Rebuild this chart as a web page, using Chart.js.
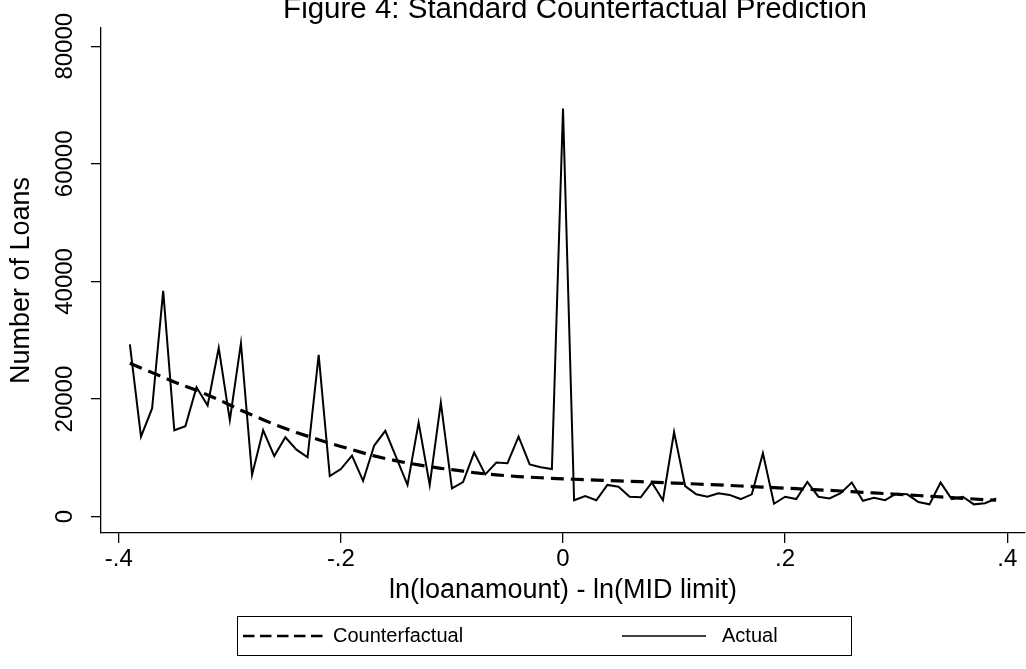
<!DOCTYPE html>
<html>
<head>
<meta charset="utf-8">
<title>Figure 4: Standard Counterfactual Prediction</title>
<script src="https://cdn.jsdelivr.net/npm/chart.js@4.4.0/dist/chart.umd.min.js"></script>
<style>
  html, body { margin: 0; padding: 0; background: #fff; }
  #wrap { width: 1026px; height: 669px; }
</style>
</head>
<body>
<div id="wrap"><canvas id="fig4" width="1026" height="669"></canvas></div>
<script>
// bins of ln(loanamount) - ln(MID limit)
var xVals = [-0.39, -0.38, -0.37, -0.36, -0.35, -0.34, -0.33, -0.32, -0.31, -0.30,
             -0.29, -0.28, -0.27, -0.26, -0.25, -0.24, -0.23, -0.22, -0.21, -0.20,
             -0.19, -0.18, -0.17, -0.16, -0.15, -0.14, -0.13, -0.12, -0.11, -0.10,
             -0.09, -0.08, -0.07, -0.06, -0.05, -0.04, -0.03, -0.02, -0.01, 0,
             0.01, 0.02, 0.03, 0.04, 0.05, 0.06, 0.07, 0.08, 0.09, 0.10,
             0.11, 0.12, 0.13, 0.14, 0.15, 0.16, 0.17, 0.18, 0.19, 0.20,
             0.21, 0.22, 0.23, 0.24, 0.25, 0.26, 0.27, 0.28, 0.29, 0.30,
             0.31, 0.32, 0.33, 0.34, 0.35, 0.36, 0.37, 0.38, 0.39];

var counterfactual = [26100, 25300, 24500, 23700, 22900, 22200, 21500, 20700, 19900, 19000,
                      18100, 17300, 16500, 15700, 15000, 14300, 13700, 13100, 12500, 11950,
                      11400, 10850, 10350, 9900, 9500, 9130, 8800, 8500, 8230, 7990,
                      7760, 7480, 7280, 7100, 6960, 6830, 6720, 6620, 6530, 6440,
                      6370, 6300, 6230, 6160, 6090, 6020, 5950, 5880, 5800, 5720,
                      5640, 5560, 5480, 5400, 5310, 5220, 5130, 5040, 4950, 4860,
                      4770, 4670, 4570, 4470, 4370, 4260, 4150, 4040, 3930, 3820,
                      3710, 3600, 3490, 3370, 3250, 3130, 3010, 2890, 2800];

var actual = [29300, 13600, 18400, 38400, 14700, 15400, 22000, 18900, 28700, 16400,
              29500, 7100, 14700, 10300, 13500, 11400, 10100, 27500, 6900, 8100,
              10400, 6100, 12100, 14600, 10000, 5400, 16000, 5400, 19400, 4800,
              5900, 10900, 7200, 9200, 9100, 13600, 8900, 8400, 8100, 69400,
              2800, 3500, 2800, 5400, 5100, 3400, 3300, 5800, 2800, 14400,
              5200, 3800, 3400, 4000, 3700, 3000, 3800, 10800, 2200, 3400,
              3000, 5900, 3400, 3100, 4000, 5800, 2700, 3200, 2800, 3900,
              3800, 2500, 2100, 5800, 3000, 3400, 2100, 2300, 3100];

var xTicks = [-0.4, -0.2, 0, 0.2, 0.4];
var xTickLabels = ["-.4", "-.2", "0", ".2", ".4"];
var yTicks = [0, 20000, 40000, 60000, 80000];
var yTickLabels = ["0", "20000", "40000", "60000", "80000"];

var FONT = '"Liberation Sans", Arial, Helvetica, sans-serif';

function pairs(ys) {
    return xVals.map(function (x, i) { return {x: x, y: ys[i]}; });
}

// nudge the title a little right, as in the original figure
var titleNudge = {
    id: 'titleNudge',
    afterLayout: function (chart) {
        if (chart.titleBlock) {
            chart.titleBlock.left += 24;
        }
    }
};

// Stata style legend: keys in a framed box under the x axis title
var stataLegend = {
    id: 'stataLegend',
    afterDraw: function (chart) {
        var ctx = chart.ctx;
        var top = chart.scales.x.bottom + 7;
        var midY = top + 20;
        var keys = [{x: 243, w: 80, tx: 333, dash: [11.5, 5.5], lw: 2.6},
                    {x: 622, w: 84, tx: 722, dash: [], lw: 1.6}];
        ctx.save();
        ctx.strokeStyle = '#000';
        ctx.lineWidth = 1;
        ctx.strokeRect(237.5, top + 0.5, 614, 39);
        chart.data.datasets.forEach(function (ds, i) {
            var k = keys[i];
            ctx.setLineDash(k.dash);
            ctx.lineWidth = k.lw;
            ctx.beginPath();
            ctx.moveTo(k.x, midY);
            ctx.lineTo(k.x + k.w, midY);
            ctx.stroke();
            ctx.setLineDash([]);
            ctx.fillStyle = '#000';
            ctx.font = '20px ' + FONT;
            ctx.textBaseline = 'middle';
            ctx.fillText(ds.label, k.tx, midY);
        });
        ctx.restore();
    }
};

var ctx = document.getElementById("fig4").getContext("2d");
new Chart(ctx, {
    type: 'line',
    data: {
        datasets: [
            {
                label: "Counterfactual",
                data: pairs(counterfactual),
                borderColor: "#000",
                borderWidth: 3.2,
                borderDash: [13, 7],
                pointRadius: 0,
                fill: false
            },
            {
                label: "Actual",
                data: pairs(actual),
                borderColor: "#000",
                borderWidth: 2,
                pointRadius: 0,
                fill: false
            }
        ]
    },
    options: {
        responsive: false,
        animation: false,
        devicePixelRatio: 1,
        layout: {padding: {left: 0, right: 1, top: 0, bottom: 60}},
        plugins: {
            legend: {display: false},
            tooltip: {enabled: false},
            title: {
                display: true,
                fullSize: false,
                text: "Figure 4: Standard Counterfactual Prediction",
                color: "#000",
                font: {family: FONT, size: 29.5, weight: 'normal', lineHeight: 1},
                padding: {top: -5, bottom: 3.4}
            }
        },
        scales: {
            x: {
                type: 'linear',
                min: -0.416,
                max: 0.416,
                afterBuildTicks: function (s) {
                    s.ticks = xTicks.map(function (v) { return {value: v}; });
                },
                afterFit: function (s) { s.height = 76; },
                border: {display: true, color: "#000", width: 1.3},
                grid: {drawOnChartArea: false, drawTicks: true, tickLength: 10, color: "#000", lineWidth: 1.3},
                ticks: {
                    color: "#000",
                    font: {family: FONT, size: 24},
                    padding: 2,
                    maxRotation: 0,
                    autoSkip: false,
                    callback: function (v, i) { return xTickLabels[i]; }
                },
                title: {
                    display: true,
                    text: "ln(loanamount) - ln(MID limit)",
                    color: "#000",
                    font: {family: FONT, size: 27, lineHeight: 1},
                    padding: {top: 0, bottom: 4.5}
                }
            },
            y: {
                min: -2772,
                max: 83112,
                afterBuildTicks: function (s) {
                    s.ticks = yTicks.map(function (v) { return {value: v}; });
                },
                afterFit: function (s) { s.width = 101; },
                border: {display: true, color: "#000", width: 1.3},
                grid: {drawOnChartArea: false, drawTicks: true, tickLength: 10, color: "#000", lineWidth: 1.3},
                ticks: {
                    color: "#000",
                    font: {family: FONT, size: 24},
                    minRotation: 90,
                    maxRotation: 90,
                    crossAlign: 'center',
                    padding: -8,
                    autoSkip: false,
                    callback: function (v, i) { return yTickLabels[i]; }
                },
                title: {
                    display: true,
                    text: "Number of Loans",
                    color: "#000",
                    font: {family: FONT, size: 27, lineHeight: 1},
                    padding: {top: 8.5, bottom: 0}
                }
            }
        }
    },
    plugins: [titleNudge, stataLegend]
});
</script>
</body>
</html>
